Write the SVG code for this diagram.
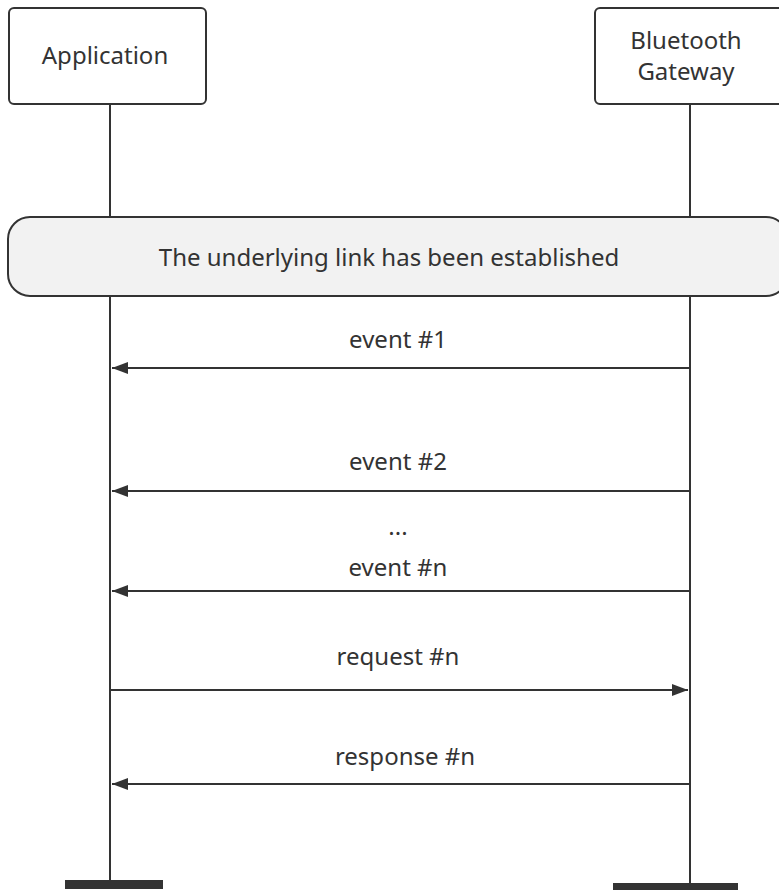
<svg xmlns="http://www.w3.org/2000/svg" width="779" height="890" viewBox="0 0 779 890">
<defs>
<marker id="ah" viewBox="0 0 16 12" refX="16" refY="6" markerWidth="16" markerHeight="12" markerUnits="userSpaceOnUse" orient="auto">
<path d="M0,0 L16,6 L0,12 Z" fill="#333"/>
</marker>
<style>
.box{fill:#fff;stroke:#333;stroke-width:2}
.life{stroke:#333;stroke-width:2;fill:none}
.msg{stroke:#333;stroke-width:2;fill:none;marker-end:url(#ah)}
text{font-family:"Noto Sans","Open Sans","DejaVu Sans",sans-serif;font-size:24px;fill:#333;text-anchor:middle}
.bar{fill:#333}
</style>
</defs>
<g id="lifelines">
<line class="life" x1="110" y1="104" x2="110" y2="881"/>
<line class="life" x1="690" y1="104" x2="690" y2="884"/>
<rect class="bar" x="65" y="880" width="98" height="9"/>
<rect class="bar" x="613" y="883" width="125" height="8"/>
</g>
<g id="application">
<rect class="box" x="9" y="8" width="197" height="96" rx="5"/>
<text x="105" y="64">Application</text>
</g>
<g id="gateway">
<rect class="box" x="595" y="8" width="190" height="96" rx="5"/>
<text x="686" y="49">Bluetooth</text>
<text x="686" y="80">Gateway</text>
</g>
<g id="established">
<rect x="8" y="217" width="780" height="79" rx="22" fill="#f2f2f2" stroke="#333" stroke-width="2"/>
<text x="389" y="266">The underlying link has been established</text>
</g>
<g id="connectors">
<line class="msg" x1="690" y1="368" x2="112" y2="368"/>
<text x="398" y="348">event #1</text>
<line class="msg" x1="690" y1="491" x2="112" y2="491"/>
<text x="398" y="470">event #2</text>
<text x="398" y="535">...</text>
<line class="msg" x1="690" y1="591" x2="112" y2="591"/>
<text x="398" y="576">event #n</text>
<line class="msg" x1="110" y1="690" x2="688" y2="690"/>
<text x="398" y="665">request #n</text>
<line class="msg" x1="690" y1="784" x2="112" y2="784"/>
<text x="405" y="765">response #n</text>
</g>
</svg>
